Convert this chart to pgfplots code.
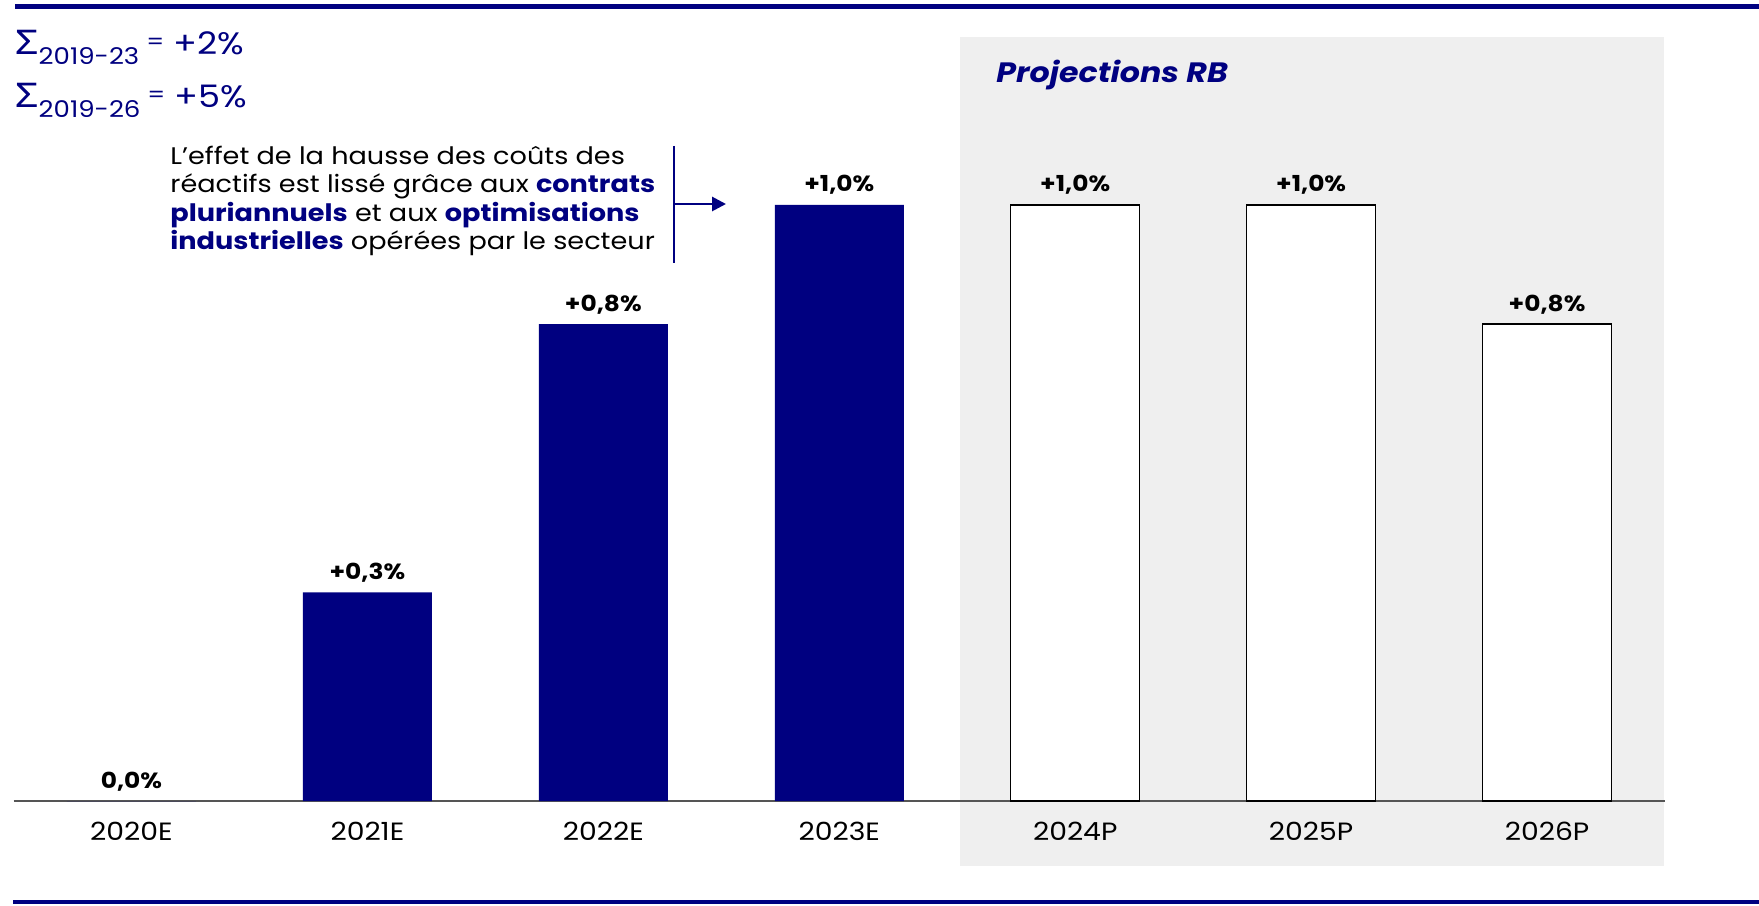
\documentclass[border=0pt]{standalone}
\usepackage{fontspec}
\setmainfont{Poppins}[FakeStretch=1.13]
\newfontfamily\sig{Noto Sans}[FakeStretch=1.2]
\usepackage{pgfplots}
\pgfplotsset{compat=1.18}
\usetikzlibrary{arrows.meta}
\definecolor{navy}{HTML}{000080}
\definecolor{bggray}{HTML}{EFEFEF}
\definecolor{axisgray}{HTML}{555555}
\begin{document}
\begin{tikzpicture}[x=0.5pt,y=0.5pt]
\path[use as bounding box] (0,0) rectangle (1759,905);
% rules
\fill[navy] (15,896) rectangle (1759,900.5);
\fill[navy] (13,1) rectangle (1759,5);
% projection background
\fill[bggray] (960,39) rectangle (1664,868);
\node[anchor=base west, inner sep=0, text=navy, font=\bfseries\itshape\fontsize{14}{17}\selectfont] at (996,822) {Projections RB};
% sums
\node[anchor=base west, inner sep=0, text=navy, font=\fontsize{15.5}{20}\selectfont] at (15,850) {{\sig\fontsize{17}{20}\selectfont Σ}\raisebox{-5pt}{\fontsize{11.5}{12}\selectfont 2019-23}\hspace{3.5pt}{\fontsize{11}{12}\selectfont\raisebox{2.5pt}{=}}\hspace{4.5pt}+2\%};
\node[anchor=base west, inner sep=0, text=navy, font=\fontsize{15.5}{20}\selectfont] at (15,797) {{\sig\fontsize{17}{20}\selectfont Σ}\raisebox{-5pt}{\fontsize{11.5}{12}\selectfont 2019-26}\hspace{3.5pt}{\fontsize{11}{12}\selectfont\raisebox{2.5pt}{=}}\hspace{4.5pt}+5\%};
% annotation
\begin{scope}[every node/.style={anchor=base west, inner sep=0, font=\fontsize{12}{14}\selectfont}]
\node at (170,740) {L'effet de la hausse des coûts des};
\node at (170,712) {réactifs est lissé grâce aux \textbf{\color{navy}contrats}};
\node at (170,683) {\textbf{\color{navy}pluriannuels} et aux \textbf{\color{navy}optimisations}};
\node at (170,655) {\textbf{\color{navy}industrielles} opérées par le secteur};
\end{scope}
\draw[navy, line width=1.4pt] (674,759) -- (674,642);
\draw[navy, line width=1.4pt, -{Triangle[length=7pt,width=7pt]}] (674,701) -- (726,701);
\begin{axis}[
  at={(6.75pt,52pt)}, anchor=south west,
  scale only axis, width=825.75pt, height=357.6pt,
  xmin=-0.5, xmax=6.5, ymin=0, ymax=1.2,
  axis x line*=bottom, axis y line=none,
  x axis line style={draw=axisgray, line width=1.3pt},
  xtick={0,...,6},
  xticklabels={2020E,2021E,2022E,2023E,2024P,2025P,2026P},
  major tick length=0pt,
  xticklabel style={anchor=base, yshift=-19.5pt, font=\fontsize{12.5}{14}\selectfont},
  clip=false,
]
\addplot[ybar, bar width=64.5pt, bar shift=0pt, fill=navy, draw=none,
  nodes near coords, point meta=explicit symbolic,
  every node near coord/.append style={anchor=base, yshift=6.5pt, text=black, font=\bfseries\fontsize{11}{13}\selectfont}]
  coordinates {(0,0) [{0,0\%}] (1,0.35) [{+0,3\%}] (2,0.8) [{+0,8\%}] (3,1.0) [{+1,0\%}]};
\addplot[ybar, bar width=64.5pt, bar shift=0pt, fill=white, draw=black, line width=0.7pt,
  nodes near coords, point meta=explicit symbolic,
  every node near coord/.append style={anchor=base, yshift=6.5pt, text=black, font=\bfseries\fontsize{11}{13}\selectfont}]
  coordinates {(4,1.0) [{+1,0\%}] (5,1.0) [{+1,0\%}] (6,0.8) [{+0,8\%}]};
\end{axis}
\end{tikzpicture}
\end{document}
